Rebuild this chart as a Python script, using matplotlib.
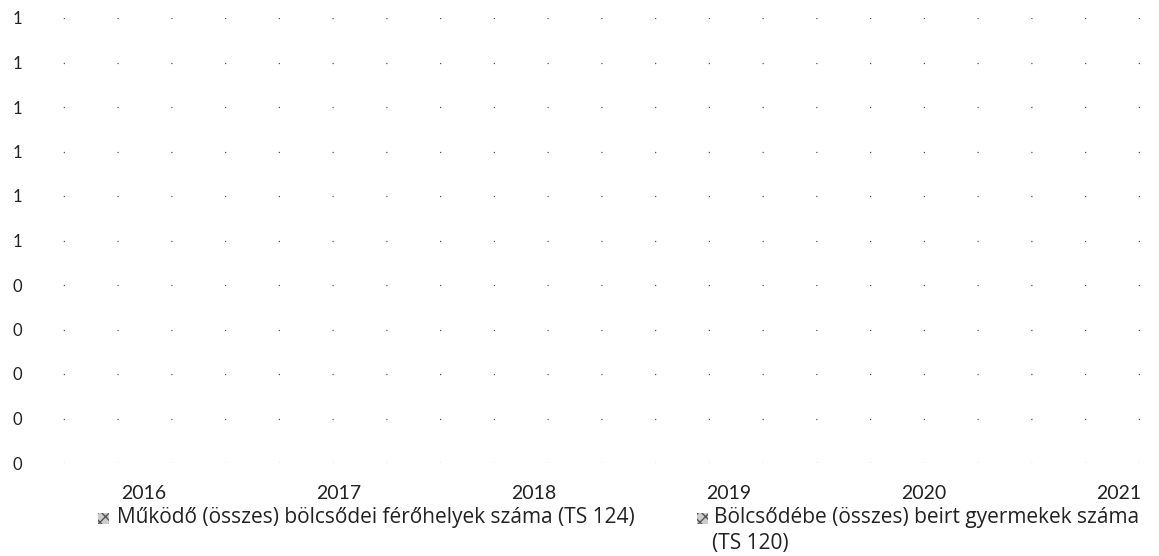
import numpy as np
import matplotlib
matplotlib.use("Agg")
from matplotlib import pyplot as plt
from matplotlib.patches import Rectangle
from matplotlib.ticker import FuncFormatter

years = ["2016", "2017", "2018", "2019", "2020", "2021"]
y_ticks = [0.0, 0.1, 0.2, 0.3, 0.4, 0.5, 0.6, 0.7, 0.8, 0.9, 1.0]
series_labels = [
    "Működő (összes) bölcsődei férőhelyek száma (TS 124)",
    "Bölcsődébe (összes) beirt gyermekek száma",
]
series_label_extra = "(TS 120)"

W, H = 1159, 556
plt.rcParams["font.family"] = ["Lato", "DejaVu Sans"]
text_color = "#222222"
legend_font = ["Open Sans", "DejaVu Sans"]

fig = plt.figure(figsize=(W / 100, H / 100), dpi=100)
fig.patch.set_facecolor("white")

# axes placed in pixel terms (right part runs off the page like the scan)
ax = fig.add_axes([46.5 / W, 93 / H, 1170 / W, 445 / H])
ax.set_xlim(-0.5, len(years) - 0.5)
ax.set_ylim(0, 1)

ax.set_xticks(np.arange(len(years)))
ax.set_xticklabels(years, fontsize=14, color=text_color)
ax.set_yticks(y_ticks)
ax.yaxis.set_major_formatter(FuncFormatter(lambda v, _: f"{int(np.floor(v + 0.5 + 1e-9))}"))
ax.tick_params(axis="x", length=0, pad=16)
ax.tick_params(axis="y", length=0, pad=17.5, labelsize=12, labelcolor=text_color)

# faded dotted gridlines
ax.grid(axis="y", color="#555555", linewidth=0.9, linestyle=(30, (1, 42)))
ax.set_axisbelow(True)
for s in ax.spines.values():
    s.set_visible(False)


def px(x, y):
    return x / W, 1 - y / H


# legend below the chart, drawn by hand so the second entry can wrap
marker_x = [98, 697]
text_x = [117, 714]
for mx, tx, lab in zip(marker_x, text_x, series_labels):
    x0, y0 = px(mx, 524)
    fig.patches.append(Rectangle((x0, y0), 11 / W, 11 / H, transform=fig.transFigure,
                                 facecolor="#cccccc", edgecolor="#555555", hatch="xxx",
                                 linewidth=0))
    fig.text(*px(tx, 517), lab, fontsize=15, family=legend_font,
             color=text_color, va="center", ha="left")
fig.text(*px(712, 544), series_label_extra, fontsize=15, family=legend_font,
         color=text_color, va="center", ha="left")

fig.savefig("out.png", dpi=100, facecolor="white")
